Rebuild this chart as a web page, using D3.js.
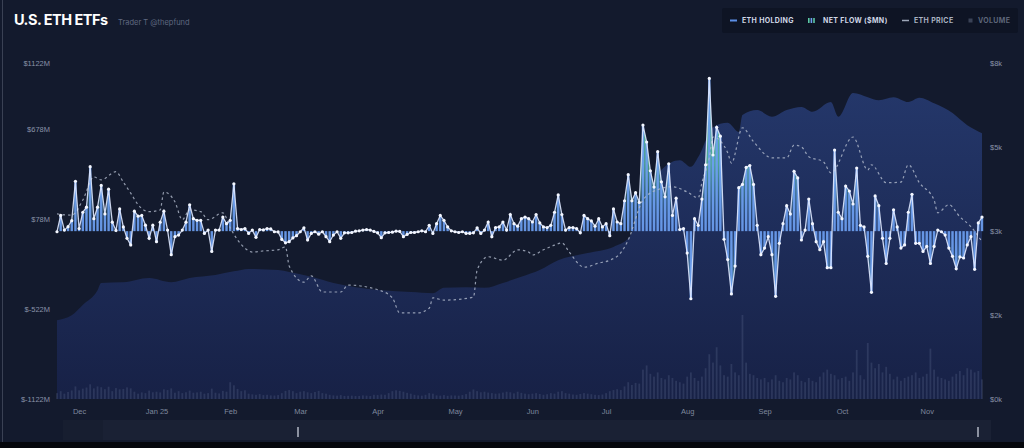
<!DOCTYPE html>
<html><head><meta charset="utf-8">
<script src="https://cdn.jsdelivr.net/npm/d3@7"></script>
<style>
html,body{margin:0;padding:0;background:#131a2d;overflow:hidden;}
svg{display:block;font-family:Inter,"Noto Sans",sans-serif;}
</style></head>
<body><svg id="c" width="1024" height="448"></svg>
<script>
// ---------- categories: US trading days ----------
const startDate = "2024-11-21", endDate = "2025-11-24";
const holidays = ["2024-11-28","2024-12-25","2025-01-01","2025-01-09","2025-01-20","2025-02-17",
  "2025-04-18","2025-05-26","2025-06-19","2025-07-04","2025-09-01"];
const days = [];
for (let d = new Date(startDate + "T00:00:00Z"); d <= new Date(endDate + "T00:00:00Z"); d.setUTCDate(d.getUTCDate() + 1)) {
  const wd = d.getUTCDay(), s = d.toISOString().slice(0, 10);
  if (wd > 0 && wd < 6 && !holidays.includes(s)) days.push(s);
}
const monthDates  = ["2024-12-02","2025-01-02","2025-02-03","2025-03-03","2025-04-01","2025-05-01",
  "2025-06-02","2025-07-01","2025-08-01","2025-09-02","2025-10-01","2025-11-03"];
const monthLabels = ["Dec","Jan 25","Feb","Mar","Apr","May","Jun","Jul","Aug","Sep","Oct","Nov"];

// ---------- net flow ($M), one per trading day ----------
const flowNov24 = [-4,105,7,30,70,333];
const flowDec = [17,126,160,430,83,160,305,115,280,60,5,148,28,-48,-92,133,100,105,40,-48,40];
const flowJan = [-70,60,133,7,-157,-37,-26,7,60,176,83,72,72,-15,7,-135,7,7,94,50];
const flowFeb = [72,316,17,11,17,-15,7,-41,11,8,17,15,-4,-5,-55,-78,-70,-45,-30];
const flowMar = [-4,22,-59,-15,-4,-20,-4,-37,-70,-26,-4,-48,-11,-11,-9,0,2,7,11,7,-2];
const flowApr = [-11,-44,-11,-9,-7,0,-2,-37,-22,-9,-9,-4,2,-4,39,-15,50,105,72,28,2];
const flowMay = [-4,-9,-4,-15,-15,-11,22,-15,7,61,-37,24,28,61,7,111,50,33,83,94,83];
const flowJun = [61,111,55,28,24,39,126,242,111,7,24,24,17,-11,105,83,68,33,83,28];
const flowJul = [50,-30,148,61,50,203,377,203,257,192,708,595,403,294,530,329,229,449,105,220,11,17];
const flowAug = [-146,-451,83,39,214,443,1019,508,693,634,-54,-190,-419,-233,290,312,425,438,312,39,-157];
const flowSep = [-113,-37,-157,-435,-81,50,170,115,399,355,-59,7,214,50,-70,-124,-70,-244,-244,541,126];
const flowOct = [83,301,268,181,421,39,28,-168,-408,235,170,-48,-216,-48,142,28,-113,-92,126,246,-81,-81,-135];
const flowNov = [-102,-216,-102,7,-4,-26,-113,-168,-251,-172,-179,-92,-37,-255,55,94];
const netFlow = [].concat(flowNov24,flowDec,flowJan,flowFeb,flowMar,flowApr,flowMay,flowJun,flowJul,flowAug,flowSep,flowOct,flowNov);

// ---------- volume ($M), one per trading day ----------
const volNov24 = [420,560,380,500,610,900];
const volDec = [620,740,820,1050,760,900,840,700,880,560,780,690,720,830,760,520,380,470,420,600,480];
const volJan = [520,470,690,640,760,450,560,420,480,600,450,470,520,380,420,740,450,400,580,520];
const volFeb = [1200,980,720,560,620,380,330,300,350,280,300,260,250,280,420,580,640,560,420];
const volMar = [520,560,480,420,500,580,420,380,300,260,240,280,220,230,240,210,220,260,240,210,300];
const volApr = [280,320,300,420,560,620,580,520,440,380,300,260,240,300,420,380,260,240,280,230,260];
const volMay = [250,240,280,350,520,680,560,480,520,460,420,380,400,460,520,480,400,520,440,380,340];
const volJun = [380,420,360,300,340,420,380,520,560,420,380,320,300,360,420,380,340,300,280,320];
const volJul = [420,560,640,700,640,900,1200,1000,1150,1100,2100,2400,1800,1600,1900,1500,1400,1700,1500,1300,1200,1100];
const volAug = [1600,1900,1500,1300,1600,2200,3200,2600,3700,2400,1700,1600,2500,1900,1700,6000,2600,1800,1700,1500,1400];
const volSep = [1500,1200,1400,1700,1300,1200,1500,1400,1900,1700,1300,1200,1500,1300,1200,1600,1900,2100,1800,1700,1400];
const volOct = [1500,1600,1300,1900,3500,1700,1400,4000,2600,2200,2500,1900,2300,1800,1400,1600,1300,1500,1600,1700,1900,1500,1600];
const volNov = [1800,3600,2100,1600,1500,1400,1300,1600,1800,2000,1700,2200,2100,1900,2000,1400];
const volume = [].concat(volNov24,volDec,volJan,volFeb,volMar,volApr,volMay,volJun,volJul,volAug,volSep,volOct,volNov);

// ---------- ETH holding (M ETH) ----------
const holdDates = ["2024-11-21","2024-11-27","2024-12-03","2024-12-09","2024-12-10","2024-12-18","2024-12-30",
  "2025-01-08","2025-01-16","2025-01-28","2025-02-04","2025-02-10","2025-02-21","2025-02-26","2025-03-06",
  "2025-03-14","2025-03-24","2025-04-02","2025-04-14","2025-04-23","2025-04-28","2025-05-06","2025-05-13",
  "2025-05-20","2025-05-28","2025-06-04","2025-06-11","2025-06-24","2025-07-03","2025-07-10","2025-07-16",
  "2025-07-23","2025-07-30","2025-08-04","2025-08-06","2025-08-12","2025-08-18","2025-08-21","2025-08-22",
  "2025-08-28","2025-09-04","2025-09-10","2025-09-16","2025-09-19","2025-09-26","2025-09-30","2025-10-06",
  "2025-10-10","2025-10-15","2025-10-21","2025-10-27","2025-10-30","2025-11-05","2025-11-12","2025-11-18","2025-11-24"];
const holdValues = [2.99,3.07,3.24,3.48,3.60,3.61,3.68,3.61,3.68,3.73,3.79,3.83,3.81,3.78,3.70,3.60,3.53,3.48,3.45,
  3.43,3.52,3.53,3.52,3.60,3.70,3.81,3.97,4.09,4.19,4.33,4.88,5.45,5.61,5.50,5.66,6.15,6.22,6.07,6.35,6.43,
  6.32,6.43,6.48,6.40,6.56,6.32,6.71,6.64,6.59,6.64,6.56,6.63,6.54,6.38,6.18,6.05];

// ---------- ETH price ($) ----------
const priceDates = ["2024-11-21","2024-11-27","2024-12-03","2024-12-06","2024-12-10","2024-12-16","2024-12-18",
  "2024-12-20","2024-12-24","2024-12-30","2025-01-03","2025-01-06","2025-01-10","2025-01-14","2025-01-16",
  "2025-01-22","2025-01-24","2025-01-30","2025-02-03","2025-02-05","2025-02-07","2025-02-11","2025-02-14",
  "2025-02-21","2025-02-25","2025-02-26","2025-03-04","2025-03-06","2025-03-11","2025-03-18","2025-03-20",
  "2025-04-01","2025-04-07","2025-04-09","2025-04-16","2025-04-22","2025-04-23","2025-04-28","2025-05-08",
  "2025-05-09","2025-05-14","2025-05-20","2025-05-27","2025-05-30","2025-06-02","2025-06-05","2025-06-10",
  "2025-06-12","2025-06-16","2025-06-23","2025-06-27","2025-07-02","2025-07-08","2025-07-10","2025-07-16",
  "2025-07-22","2025-07-28","2025-08-01","2025-08-06","2025-08-07","2025-08-11","2025-08-12","2025-08-18",
  "2025-08-19","2025-08-22","2025-08-27","2025-09-04","2025-09-10","2025-09-12","2025-09-16","2025-09-18",
  "2025-09-24","2025-09-26","2025-10-06","2025-10-10","2025-10-13","2025-10-17","2025-10-23","2025-10-27",
  "2025-10-30","2025-11-05","2025-11-06","2025-11-11","2025-11-14","2025-11-19","2025-11-24"];
const priceValues = [3200,3180,3440,3840,3790,3930,3750,3560,3360,3240,3270,3580,3410,3100,3270,3240,3100,3220,
  2960,2750,2610,2540,2560,2580,2630,2300,2020,2130,1850,1850,1970,1890,1750,1490,1490,1570,1750,1710,1760,
  2230,2460,2400,2580,2540,2490,2580,2660,2700,2540,2280,2350,2400,2530,2750,3440,3620,3670,3580,3480,3740,
  4170,4530,4260,4080,4690,4450,4170,4170,4390,4360,4190,4100,3910,4530,3960,4050,3740,3750,4050,3740,3440,
  3220,3360,3150,2980,2720];

// ---------- axis ticks ----------
const flowTicks = [1122, 678, 78, -522, -1122];
const flowTickLabels = ["$1122M","$678M","$78M","$-522M","$-1122M"];
const priceTicks = [5810, 4360, 2905, 1450, 0];
const priceTickLabels = ["$8k","$5k","$3k","$2k","$0k"];

// ---------- scales ----------
const svg = d3.select("#c");
const W = 1024, H = 448;
const x = d3.scalePoint().domain(days).range([57, 982]);
const yFlow = d3.scaleLinear().domain([-1122, 1122]).range([399.3, 63]);
const yPrice = d3.scaleLinear().domain([0, 5810]).range([399, 63]);
const yHold = d3.scaleLinear().domain([1.7, 7.2]).range([399, 63]);
const yVol = d3.scaleLinear().domain([0, 24000]).range([399, 63]);

svg.append("rect").attr("width", W).attr("height", H).attr("fill", "#131a2d");
svg.append("rect").attr("x", 0).attr("y", 442).attr("width", W).attr("height", 6).attr("fill", "#05070c");
svg.append("line").attr("x1", 2.5).attr("x2", 2.5).attr("y1", 0).attr("y2", 442).attr("stroke", "#3a4154").attr("stroke-width", 1);

const defs = svg.append("defs");
const hg = defs.append("linearGradient").attr("id", "holdG").attr("gradientUnits", "userSpaceOnUse")
  .attr("x1", 0).attr("x2", 0).attr("y1", 90).attr("y2", 399);
hg.append("stop").attr("offset", 0).attr("stop-color", "#24376a");
hg.append("stop").attr("offset", 1).attr("stop-color", "#172146");
const fg = defs.append("linearGradient").attr("id", "flowG").attr("gradientUnits", "userSpaceOnUse")
  .attr("x1", 0).attr("x2", 0).attr("y1", yFlow(1122)).attr("y2", yFlow(-1122));
fg.append("stop").attr("offset", 0).attr("stop-color", "#66d6a8").attr("stop-opacity", 0.95);
fg.append("stop").attr("offset", 0.3).attr("stop-color", "#5cc9a6").attr("stop-opacity", 0.75);
fg.append("stop").attr("offset", 0.5).attr("stop-color", "#4b8fd0").attr("stop-opacity", 0.05);
fg.append("stop").attr("offset", 0.7).attr("stop-color", "#5cc9a6").attr("stop-opacity", 0.75);
fg.append("stop").attr("offset", 1).attr("stop-color", "#66d6a8").attr("stop-opacity", 0.95);

// ---------- holding area ----------
const holdData = holdDates.map((d, i) => ({ d, v: holdValues[i] }));
svg.append("path").datum(holdData)
  .attr("d", d3.area().x(p => x(p.d)).y0(399).y1(p => yHold(p.v)).curve(d3.curveMonotoneX))
  .attr("fill", "url(#holdG)");

// ---------- volume bars ----------
svg.append("g").selectAll("rect").data(days).join("rect")
  .attr("x", d => x(d) - 0.9).attr("width", 1.8)
  .attr("y", (d, i) => yVol(volume[i])).attr("height", (d, i) => 399 - yVol(volume[i]))
  .attr("fill", "#7584a8").attr("opacity", 0.22);

// ---------- net flow ----------
const flowData = days.map((d, i) => ({ d, v: netFlow[i] }));
svg.append("path").datum(flowData)
  .attr("d", d3.area().x(p => x(p.d)).y0(yFlow(0)).y1(p => yFlow(p.v)))
  .attr("fill", "url(#flowG)");
svg.append("g").selectAll("rect").data(flowData).join("rect")
  .attr("x", p => x(p.d) - 1.2).attr("width", 2.4)
  .attr("y", p => Math.min(yFlow(p.v), yFlow(0)))
  .attr("height", p => Math.abs(yFlow(p.v) - yFlow(0)))
  .attr("fill", "#6d9ef0").attr("opacity", 0.92);

// ---------- price dashed line ----------
const priceData = priceDates.map((d, i) => ({ d, v: priceValues[i] }));
svg.append("path").datum(priceData)
  .attr("d", d3.line().x(p => x(p.d)).y(p => yPrice(p.v)).curve(d3.curveMonotoneX))
  .attr("fill", "none").attr("stroke", "#b3bccd").attr("stroke-width", 1.2)
  .attr("stroke-dasharray", "2.5,3").attr("opacity", 0.8);

// flow line & dots
svg.append("path").datum(flowData)
  .attr("d", d3.line().x(p => x(p.d)).y(p => yFlow(p.v)))
  .attr("fill", "none").attr("stroke", "#dfe8ff").attr("stroke-width", 1.3).attr("opacity", 0.9);
svg.append("g").selectAll("circle").data(flowData).join("circle")
  .attr("cx", p => x(p.d)).attr("cy", p => yFlow(p.v)).attr("r", 1.6).attr("fill", "#f4f7ff");

// ---------- axes ----------
const axisL = svg.append("g").attr("transform", "translate(50,0)")
  .call(d3.axisLeft(yFlow).tickValues(flowTicks).tickFormat((d, i) => flowTickLabels[i]).tickSize(0).tickPadding(0));
const axisR = svg.append("g").attr("transform", "translate(990,0)")
  .call(d3.axisRight(yPrice).tickValues(priceTicks).tickFormat((d, i) => priceTickLabels[i]).tickSize(0).tickPadding(0));
const axisB = svg.append("g").attr("transform", "translate(0,409)")
  .call(d3.axisBottom(x).tickValues(monthDates).tickFormat((d, i) => monthLabels[i]).tickSize(0).tickPadding(0));
[axisL, axisR, axisB].forEach(a => {
  a.select(".domain").remove();
  a.selectAll("text").attr("fill", "#8a93a8").attr("font-size", 7.5).attr("font-weight", 500);
});
axisB.selectAll("text").attr("dy", "0.71em").attr("fill", "#7f889d");

// ---------- navigator ----------
svg.append("rect").attr("x", 63).attr("y", 420).attr("width", 928).attr("height", 20).attr("fill", "#1a2134");
svg.append("rect").attr("x", 63).attr("y", 420).attr("width", 40).attr("height", 20).attr("fill", "#171e30");
[298, 978].forEach(hx => svg.append("line").attr("x1", hx).attr("x2", hx).attr("y1", 427).attr("y2", 437)
  .attr("stroke", "#d9deea").attr("stroke-width", 1.2));

// ---------- title ----------
svg.append("text").attr("x", 14).attr("y", 25).text("U.S. ETH ETFs")
  .attr("fill", "#ffffff").attr("font-size", 14.5).attr("font-weight", 700).attr("letter-spacing", -0.5);
svg.append("text").attr("x", 118).attr("y", 24.5).text("Trader T @thepfund")
  .attr("fill", "#5f6880").attr("font-size", 7.5);

// ---------- legend ----------
const lg = svg.append("g");
lg.append("rect").attr("x", 722).attr("y", 8).attr("width", 296).attr("height", 25).attr("rx", 2).attr("fill", "#0e1424");
const ly = 20.5;
lg.append("line").attr("x1", 730).attr("x2", 737).attr("y1", ly).attr("y2", ly).attr("stroke", "#5b8ee6").attr("stroke-width", 2);
["#5cc9a6", "#6d9ef0", "#5cc9a6"].forEach((c, i) => lg.append("rect").attr("x", 808 + i * 2.6).attr("y", ly - 2.5)
  .attr("width", 1.6).attr("height", 5).attr("fill", c));
lg.append("line").attr("x1", 902).attr("x2", 909).attr("y1", ly).attr("y2", ly).attr("stroke", "#9ea7b8").attr("stroke-width", 1.5);
lg.append("rect").attr("x", 968.5).attr("y", ly - 2).attr("width", 4).attr("height", 4).attr("fill", "#3a4256");
const legendItems = [["ETH HOLDING", 742, "#d0d7e6"], ["NET FLOW ($MN)", 823, "#d0d7e6"], ["ETH PRICE", 914, "#aab2c2"], ["VOLUME", 978, "#5d6679"]];
legendItems.forEach(([t, lx, c]) => lg.append("text").attr("x", lx).attr("y", ly).attr("dy", "0.35em").text(t)
  .attr("fill", c).attr("font-size", 7).attr("font-weight", 700).attr("letter-spacing", 0.35));
</script></body></html>
